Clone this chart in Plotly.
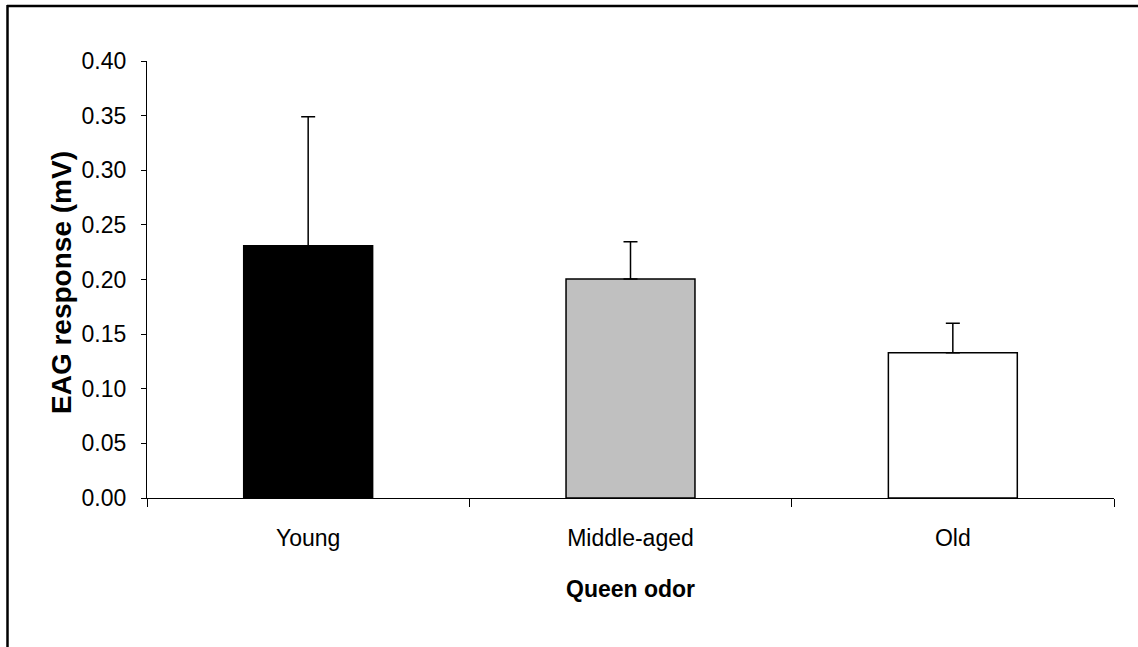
import plotly.graph_objects as go

categories = ["Young", "Middle-aged", "Old"]
values = [0.231, 0.2005, 0.133]
errors_up = [0.118, 0.034, 0.027]
bar_colors = ["#000000", "#C0C0C0", "#FFFFFF"]
y_ticks = [0.0, 0.05, 0.10, 0.15, 0.20, 0.25, 0.30, 0.35, 0.40]
y_tick_labels = ["0.00", "0.05", "0.10", "0.15", "0.20", "0.25", "0.30", "0.35", "0.40"]

W, H = 1138, 647
L, R, T, B = 147, 24, 61, 149
pw, ph = W - L - R, H - T - B

def px_x(x):
    return (x - L) / pw

def px_y(y):
    return (H - B - y) / ph

FONT = "Liberation Sans, Arial, sans-serif"

fig = go.Figure()
fig.add_trace(go.Bar(
    x=categories, y=values, width=0.4,
    marker=dict(color=bar_colors, line=dict(color="#000000", width=1.5)),
    error_y=dict(type="data", array=errors_up, arrayminus=[0, 0, 0], symmetric=False,
                 color="#000000", thickness=1.5, width=7),
    showlegend=False,
))

fig.update_layout(
    width=W, height=H,
    margin=dict(l=L, r=R, t=T, b=B, pad=0),
    paper_bgcolor="white", plot_bgcolor="white",
    font=dict(family=FONT, size=23, color="#000000"),
    bargap=0.6,
    xaxis=dict(
        type="category", showline=True, linecolor="#000000", linewidth=1.2,
        ticks="outside", tickson="boundaries", ticklen=8, tickcolor="#000000", tickwidth=1.2,
        showgrid=False, zeroline=False, ticklabelstandoff=19,
        tickfont=dict(family=FONT, size=23, color="#000000"),
        range=[-0.5, 2.5],
    ),
    yaxis=dict(
        range=[0, 0.4], tickvals=y_ticks, ticktext=y_tick_labels,
        showline=True, linecolor="#000000", linewidth=1.2,
        ticks="outside", ticklen=5, tickcolor="#000000", tickwidth=1.2,
        showgrid=False, zeroline=False, ticklabelstandoff=10,
        tickfont=dict(family=FONT, size=23, color="#000000"),
    ),
    annotations=[
        dict(text="<b>EAG response (mV)</b>", x=px_x(61), y=px_y(283), xref="paper", yref="paper",
             textangle=-90, showarrow=False, xanchor="center", yanchor="middle",
             font=dict(family=FONT, size=28, color="#000000")),
        dict(text="<b>Queen odor</b>", x=px_x(630), y=px_y(589), xref="paper", yref="paper",
             showarrow=False, xanchor="center", yanchor="middle",
             font=dict(family=FONT, size=23, color="#000000")),
    ],
    shapes=[
        dict(type="line", xref="paper", yref="paper", x0=px_x(7), x1=px_x(1145),
             y0=px_y(6), y1=px_y(6), line=dict(color="#000000", width=2.5)),
        dict(type="line", xref="paper", yref="paper", x0=px_x(7.5), x1=px_x(7.5),
             y0=px_y(5), y1=px_y(660), line=dict(color="#000000", width=2.5)),
    ],
)

fig.write_html("out.html")
